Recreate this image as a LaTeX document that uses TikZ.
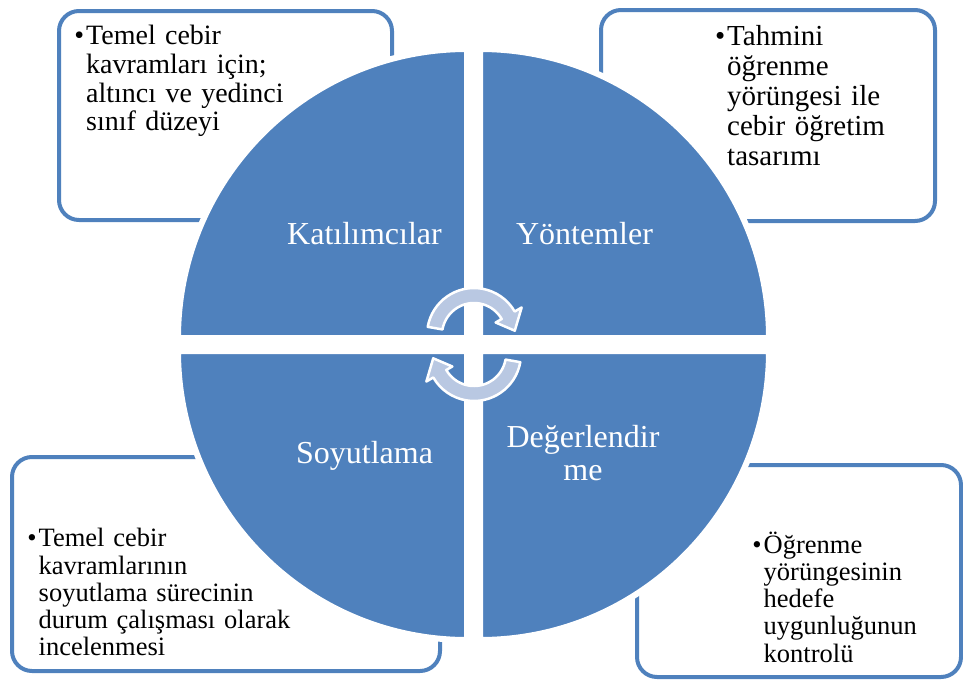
\documentclass[tikz,border=0pt]{standalone}
\usepackage{fontspec}
\setmainfont{Liberation Serif}
\definecolor{quadblue}{RGB}{79,129,189}
\definecolor{arrowfill}{RGB}{185,200,226}

\tikzset{
  infobox/.style={draw=quadblue, line width=4pt, fill=white, rounded corners=20pt, inner sep=0pt},
  quad/.style={fill=quadblue, draw=white, line width=6pt, line join=miter},
  quadlabel/.style={text=white, font=\fontsize{32}{33}\selectfont, inner sep=0pt,
    align=center, text width=220pt, anchor=base},
  toptext/.style={font=\fontsize{28}{28.8}\selectfont, inner sep=0pt, align=left,
    text width=300pt, anchor=base west},
  toptextb/.style={font=\fontsize{29}{30}\selectfont, inner sep=0pt, align=left,
    text width=300pt, anchor=base west},
  bottext/.style={font=\fontsize{26.5}{27.3}\selectfont, inner sep=0pt, align=left,
    text width=360pt, anchor=base west},
  cyclearrow/.style={fill=arrowfill, draw=white, line width=2.5pt, line join=round}
}
\newcommand{\bul}{\llap{\textbullet\hspace{2pt}}}

\begin{document}
\begin{tikzpicture}[x=1pt, y=-1pt]
\useasboundingbox (0,0) rectangle (963,680);

% rounded information boxes behind the circle
\node[infobox, minimum width=333pt, minimum height=209pt] (boxTL) at (225.5,115.5) {};
\node[infobox, minimum width=334pt, minimum height=211pt] (boxTR) at (768,115.5) {};
\node[infobox, minimum width=428pt, minimum height=214pt] (boxBL) at (226,564) {};
\node[infobox, minimum width=324pt, minimum height=212pt] (boxBR) at (799,571) {};

% box texts
\node[toptext] (txtTL) at (86,44.5) {\bul Temel cebir\\kavramları için;\\altıncı ve yedinci\\sınıf düzeyi};
\node[toptextb] (txtTR) at (727,45) {\bul Tahmini\\öğrenme\\yörüngesi ile\\cebir öğretim\\tasarımı};
\node[bottext] (txtBL) at (38.5,546.7) {\bul Temel cebir\\kavramlarının\\soyutlama sürecinin\\durum çalışması olarak\\incelenmesi};
\node[bottext] (txtBR) at (763.5,553) {\bul Öğrenme\\yörüngesinin\\hedefe\\uygunluğunun\\kontrolü};

% four quarter discs
\filldraw[quad] (467,338) -- ++(-289,0) arc[start angle=180, end angle=270, radius=289] -- cycle;
\filldraw[quad] (480,338) -- ++(0,-289) arc[start angle=270, end angle=360, radius=289] -- cycle;
\filldraw[quad] (480,351) -- ++(289,0) arc[start angle=0, end angle=90, radius=289] -- cycle;
\filldraw[quad] (467,351) -- ++(0,289) arc[start angle=90, end angle=180, radius=289] -- cycle;

% quadrant labels
\node[quadlabel] (katilim) at (364.5,244) {Katılımcılar};
\node[quadlabel] (yontem) at (584.5,244) {Yöntemler};
\node[quadlabel] (soyut) at (364.5,463) {Soyutlama};
\node[quadlabel] (degerl) at (583,447) {Değerlendir\\me};

% circular arrows in the centre
\begin{scope}[shift={(474,335)}, yscale=-1]
  \filldraw[cyclearrow] (170:47) arc[start angle=170, end angle=30, radius=47]
    -- (30:55) -- (6:41) -- (30:25) -- (30:32)
    arc[start angle=30, end angle=170, radius=32] -- cycle;
\end{scope}
\begin{scope}[shift={(474,354)}, xscale=-1]
  \filldraw[cyclearrow] (170:47) arc[start angle=170, end angle=30, radius=47]
    -- (30:55) -- (6:41) -- (30:25) -- (30:32)
    arc[start angle=30, end angle=170, radius=32] -- cycle;
\end{scope}
\end{tikzpicture}
\end{document}
